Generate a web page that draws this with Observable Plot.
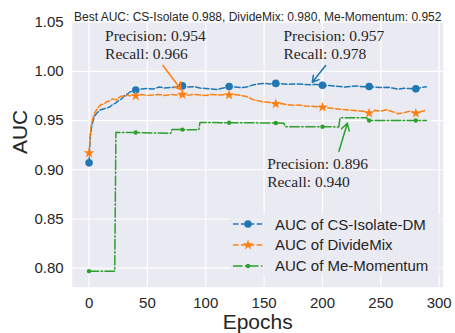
<!DOCTYPE html>
<html>
<head>
<meta charset="utf-8">
<script src="https://cdn.jsdelivr.net/npm/d3@7"></script>
<script src="https://cdn.jsdelivr.net/npm/@observablehq/plot@0.6"></script>
<style>
  html, body { margin: 0; padding: 0; background: #fff; }
  #wrap { position: relative; width: 455px; height: 333px; font-family: "Liberation Sans", Arial, sans-serif; }
  #legend { position: absolute; left: 230px; top: 213px; width: 211px; height: 63px;
            background: rgba(234,234,242,0.85); border-radius: 4px; }
  .row { position: absolute; left: 0; height: 20px; display: flex; align-items: center; }
  .row svg { margin-left: 3px; }
  .row span { margin-left: 12px; font-size: 15px; color: #262626; white-space: nowrap; }
</style>
</head>
<body>
<div id="wrap"></div>
<script>
// ---- data ----
const titleText = "Best AUC: CS-Isolate 0.988, DivideMix: 0.980, Me-Momentum: 0.952";
const seriesNames = ["AUC of CS-Isolate-DM", "AUC of DivideMix", "AUC of Me-Momentum"];
const seriesColors = ["#1f77b4", "#ff7f0e", "#2ca02c"];

const epochs = [0,1,2,3,4,5,7,10,13,15,18,20,23,25,28,30,33,35,38,40,
  45,50,55,60,65,70,75,80,85,90,95,100,105,110,115,120,125,130,135,140,
  145,150,155,160,165,170,175,180,185,190,195,200,205,210,215,220,225,230,235,240,
  245,250,255,260,265,270,275,280,285,289];

const csIsolateAUC = [0.907,0.933,0.942,0.948,0.952,0.955,0.958,0.961,0.962,0.9625,0.964,0.966,0.968,0.970,0.972,0.975,0.977,0.979,0.980,0.981,
  0.982,0.9825,0.982,0.984,0.983,0.9835,0.984,0.9852,0.984,0.9845,0.983,0.9825,0.982,0.9815,0.983,0.9845,0.984,0.9835,0.984,0.986,
  0.9872,0.9876,0.9872,0.9877,0.9873,0.9868,0.9872,0.987,0.9866,0.9864,0.9866,0.9858,0.9855,0.985,0.9845,0.984,0.9848,0.985,0.9842,0.9846,
  0.984,0.9835,0.9838,0.983,0.9818,0.9828,0.9825,0.9822,0.9835,0.9843];

const divideMixAUC = [0.917,0.936,0.946,0.951,0.955,0.958,0.962,0.966,0.967,0.969,0.970,0.972,0.971,0.973,0.975,0.974,0.976,0.975,0.976,0.975,
  0.9765,0.9755,0.976,0.9765,0.9755,0.9765,0.976,0.9764,0.9758,0.9765,0.976,0.9755,0.9765,0.976,0.9762,0.976,0.9765,0.9755,0.9745,0.9715,
  0.970,0.9688,0.9682,0.967,0.9672,0.966,0.9655,0.9658,0.9648,0.9645,0.964,0.9635,0.963,0.962,0.9615,0.961,0.9605,0.9598,0.9595,0.9574,
  0.9605,0.9595,0.961,0.959,0.9568,0.958,0.9595,0.9574,0.9592,0.9608];

const momentumEpochs = [0,22,23,40,70,71,80,94,95,120,160,167,168,200,214,215,238,239,240,280,289];
const momentumAUC = [0.797,0.797,0.938,0.9378,0.937,0.9408,0.9408,0.9405,0.948,0.9478,0.9475,0.9472,0.9437,0.9437,0.9435,0.9528,0.9528,0.950,0.950,0.950,0.950];

const markerEvery = 40;

const xTicks = [0, 50, 100, 150, 200, 250, 300];
const yTicks = [0.80, 0.85, 0.90, 0.95, 1.00, 1.05];

const annoText = ["Precision: 0.954\nRecall: 0.966", "Precision: 0.957\nRecall: 0.978", "Precision: 0.896\nRecall: 0.940"];
const annoX = [13.7, 166.6, 152.6];
const annoY = [1.0439, 1.0439, 0.9142];
const arrowX1 = [63.3, 202.7, 214.1];
const arrowY1 = [1.0059, 1.0059, 0.9188];
const arrowX2 = [79.0, 191.3, 221.3];
const arrowY2 = [0.9812, 0.9889, 0.9473];
const arrowColors = ["#ff7f0e", "#1f77b4", "#2ca02c"];

// ---- build tables ----
const blue = epochs.map((e, i) => ({epoch: e, auc: csIsolateAUC[i]}));
const orange = epochs.map((e, i) => ({epoch: e, auc: divideMixAUC[i]}));
const green = momentumEpochs.map((e, i) => ({epoch: e, auc: momentumAUC[i]}));
const mk = d => d.epoch % markerEvery === 0;
const annos = annoText.map((t, i) => ({text: t, x: annoX[i], y: annoY[i]}));
const arrows = arrowX1.map((x, i) => ({x1: x, y1: arrowY1[i], x2: arrowX2[i], y2: arrowY2[i], c: arrowColors[i]}));

const starR = 3.3;

const chart = Plot.plot({
  width: 455, height: 333,
  marginLeft: 71.7, marginRight: 12.3, marginTop: 20.5, marginBottom: 46.3,
  x: {domain: [-14.45, 303.45]},
  y: {domain: [0.7807, 1.0511]},
  style: {fontFamily: "Liberation Sans, Arial, sans-serif", background: "white", color: "#262626"},
  marks: [
    Plot.frame({fill: "#EAEAF2", stroke: "none"}),
    Plot.gridX(xTicks, {stroke: "white", strokeOpacity: 1, strokeWidth: 1.2}),
    Plot.gridY(yTicks, {stroke: "white", strokeOpacity: 1, strokeWidth: 1.2}),
    Plot.axisX(xTicks, {tickSize: 0, tickPadding: 10, fontSize: 15, label: null, fill: "#262626"}),
    Plot.axisY(yTicks, {tickSize: 0, tickPadding: 8.5, fontSize: 15, label: null, tickFormat: d3.format(".2f"), fill: "#262626"}),
    Plot.text(["AUC"], {frameAnchor: "left", dx: -52, rotate: -90, fontSize: 21, fill: "#262626"}),
    Plot.text(["Epochs"], {frameAnchor: "bottom", dy: 42, fontSize: 21, fill: "#262626"}),
    Plot.text([titleText], {frameAnchor: "top", dy: -9, fontSize: 12, fill: "#262626"}),

    Plot.line(blue, {x: "epoch", y: "auc", stroke: seriesColors[0], strokeWidth: 1.5, strokeDasharray: "5.5,2.4"}),
    Plot.dot(blue.filter(mk), {x: "epoch", y: "auc", r: 3.8, fill: seriesColors[0], stroke: "none"}),
    Plot.line(orange, {x: "epoch", y: "auc", stroke: seriesColors[1], strokeWidth: 1.5, strokeDasharray: "5.5,2.4"}),
    Plot.dot(orange.filter(mk), {x: "epoch", y: "auc", r: starR, symbol: "star", fill: seriesColors[1], stroke: "none"}),
    Plot.line(green, {x: "epoch", y: "auc", stroke: seriesColors[2], strokeWidth: 1.5, strokeDasharray: "9.6,2.4,1.5,2.4"}),
    Plot.dot(green.filter(mk), {x: "epoch", y: "auc", r: 2.2, fill: seriesColors[2], stroke: "none"}),

    Plot.arrow(arrows, {x1: "x1", y1: "y1", x2: "x2", y2: "y2", stroke: "c", strokeWidth: 1.5, headLength: 8}),
    Plot.text(annos, {x: "x", y: "y", text: "text", textAnchor: "start", lineAnchor: "top", lineHeight: 1.18,
      fontSize: 15.5, fontFamily: "Liberation Serif, Times New Roman, serif", fill: "#262626"})
  ]
});

const wrap = document.getElementById("wrap");
wrap.appendChild(chart);

// legend
const legend = document.createElement("div");
legend.id = "legend";
const dashes = ["5.5,2.4", "5.5,2.4", "9.6,2.4,1.5,2.4"];
const starPath = d3.symbol(d3.symbolStar, Math.PI * starR * starR)();
seriesNames.forEach((name, i) => {
  const row = document.createElement("div");
  row.className = "row";
  row.style.top = (1 + i * 20.8) + "px";
  let marker;
  if (i === 0) marker = `<circle cx="15" cy="5" r="3.8" fill="${seriesColors[i]}"/>`;
  else if (i === 1) marker = `<path transform="translate(15,5)" d="${starPath}" fill="${seriesColors[i]}"/>`;
  else marker = `<circle cx="15" cy="5" r="2.2" fill="${seriesColors[i]}"/>`;
  row.innerHTML = `<svg width="30" height="10"><line x1="0" y1="5" x2="30" y2="5" stroke="${seriesColors[i]}" stroke-width="1.5" stroke-dasharray="${dashes[i]}"/>${marker}</svg><span>${name}</span>`;
  legend.appendChild(row);
});
wrap.appendChild(legend);
</script>
</body>
</html>
